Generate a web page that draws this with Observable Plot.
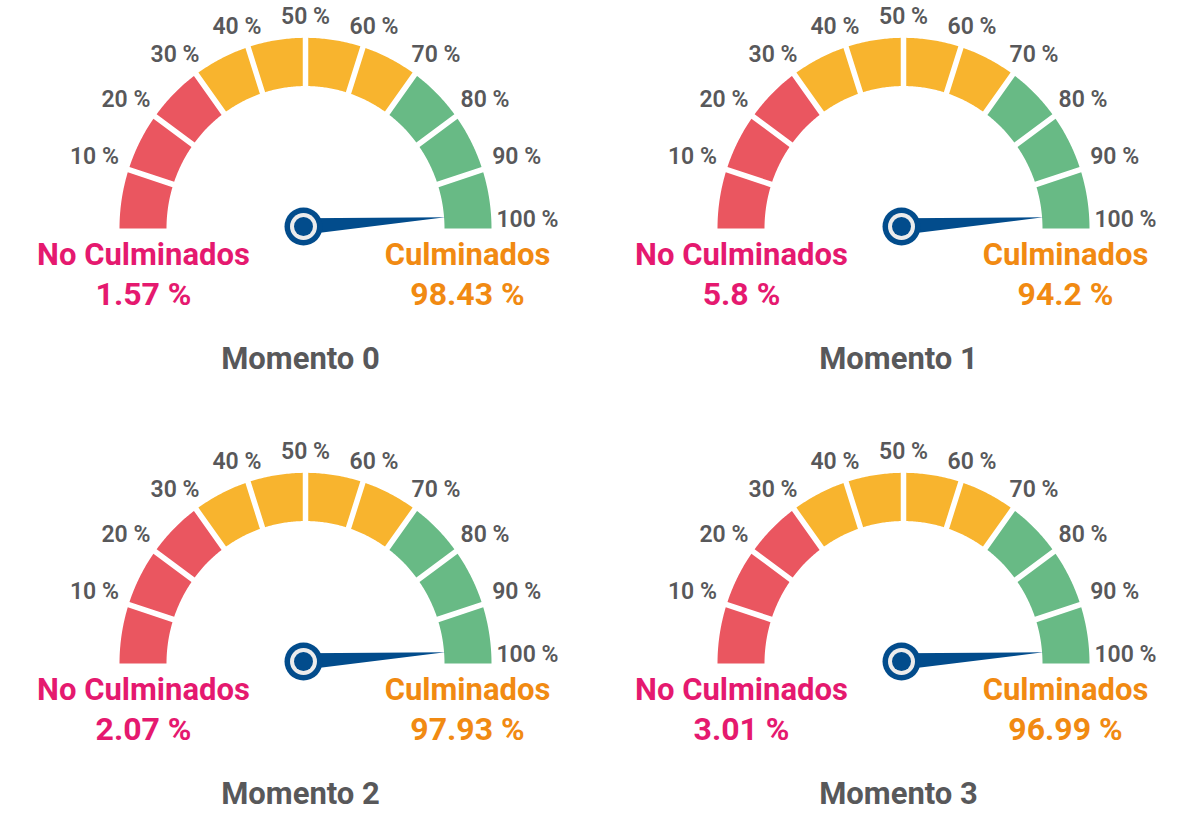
<!DOCTYPE html>
<html>
<head>
<meta charset="utf-8">
<script src="https://cdn.jsdelivr.net/npm/d3@7"></script>
<script src="https://cdn.jsdelivr.net/npm/@observablehq/plot@0.6"></script>
<style>
  html, body { margin: 0; padding: 0; background: #ffffff; }
  #wrap { position: relative; width: 1191px; height: 813px; overflow: hidden; }
  .cell { position: absolute; }
  .cell svg { display: block; }
</style>
</head>
<body>
<div id="wrap"></div>
<script>
// ---- data ----
const moments        = ["Momento 0", "Momento 1", "Momento 2", "Momento 3"];
const noCulminados   = [1.57, 5.8, 2.07, 3.01];
const culminados     = [98.43, 94.2, 97.93, 96.99];
const needleAt       = [98, 98, 98, 98];           // needle position on the 0–100 dial, as drawn
const tickValues     = [10, 20, 30, 40, 50, 60, 70, 80, 90, 100];
const tickLabels     = ["10 %", "20 %", "30 %", "40 %", "50 %", "60 %", "70 %", "80 %", "90 %", "100 %"];
const bandOf         = ["red", "red", "red", "yellow", "yellow", "yellow", "yellow", "green", "green", "green"];
const labelNo        = "No Culminados";
const labelYes       = "Culminados";

// ---- style ----
const bandColor = {red: "#EA5660", yellow: "#F8B42E", green: "#68BA85"};
const navy = "#024C8C", pink = "#E5196F", orange = "#F18A12", gray = "#58585A";
const FONT = "Roboto, 'Open Sans', sans-serif";

// ---- geometry (in px units, y up, gauge centre at 0,0) ----
const R_OUT = 186, R_IN = 139, GAP = 5.5;
const Y_STRETCH = 1.025;
const theta = p => Math.PI * (1 - p / 100);

function segmentPoints() {
  const pts = [];
  tickValues.forEach((p1, i) => {
    const p0 = i === 0 ? 0 : tickValues[i - 1];
    const t0 = theta(p0), t1 = theta(p1);
    const d0 = i === 0 ? 0 : GAP / 2;
    const d1 = i === tickValues.length - 1 ? 0 : GAP / 2;
    const n = 30;
    const a0o = t0 - Math.asin(d0 / R_OUT), a1o = t1 + Math.asin(d1 / R_OUT);
    const a0i = t0 - Math.asin(d0 / R_IN),  a1i = t1 + Math.asin(d1 / R_IN);
    for (let k = 0; k <= n; k++) {
      const a = a0o + (a1o - a0o) * k / n;
      pts.push({seg: i, color: bandColor[bandOf[i]], x: R_OUT * Math.cos(a), y: R_OUT * Math.sin(a)});
    }
    for (let k = 0; k <= n; k++) {
      const a = a1i + (a0i - a1i) * k / n;
      pts.push({seg: i, color: bandColor[bandOf[i]], x: R_IN * Math.cos(a), y: R_IN * Math.sin(a)});
    }
  });
  return pts;
}
const segs = segmentPoints();

const ticks = tickValues.map((v, i) => {
  const t = theta(v);
  return {label: tickLabels[i], x: 222 * Math.cos(t), y: 198 * Math.sin(t) + 9};
});

const pivot = {x: -2, y: 2};
function needle(p) {
  const t = theta(p), L = 142, w = 8;
  const tip = {x: pivot.x + L * Math.cos(t), y: pivot.y + L * Math.sin(t)};
  return [
    {x: pivot.x - w * Math.sin(t), y: pivot.y + w * Math.cos(t)},
    tip,
    {x: pivot.x + w * Math.sin(t), y: pivot.y - w * Math.cos(t)}
  ];
}

// layout of the 2×2 grid
const cells = [
  {left: 0,   top: 0,   w: 596, h: 435, cx: 305, cy: 228},
  {left: 595, top: 0,   w: 596, h: 435, cx: 308, cy: 228},
  {left: 0,   top: 435, w: 596, h: 378, cx: 305, cy: 228},
  {left: 595, top: 435, w: 596, h: 378, cx: 308, cy: 228}
];

const wrap = document.getElementById("wrap");
moments.forEach((m, i) => {
  const c = cells[i];
  const chart = Plot.plot({
    width: c.w, height: c.h,
    margin: 0,
    x: {domain: [-c.cx, c.w - c.cx], axis: null},
    y: {domain: [(c.cy - c.h) / Y_STRETCH, c.cy / Y_STRETCH], axis: null},
    color: {type: "identity"},
    style: {fontFamily: FONT, background: "transparent", overflow: "visible"},
    marks: [
      Plot.line(segs, {x: "x", y: "y", z: "seg", fill: "color", stroke: "none"}),
      Plot.text(ticks, {x: "x", y: "y", text: "label", fontSize: 23, fontWeight: 600, fill: gray}),
      Plot.line(needle(needleAt[i]), {x: "x", y: "y", fill: navy, stroke: "none"}),
      Plot.dot([pivot], {x: "x", y: "y", r: 19, fill: navy, stroke: "none"}),
      Plot.dot([pivot], {x: "x", y: "y", r: 13.5, fill: "#ECECEC", stroke: "none"}),
      Plot.dot([pivot], {x: "x", y: "y", r: 9.5, fill: navy, stroke: "none"}),
      Plot.text([labelNo], {x: -162, y: -26, text: d => d, fontSize: 31, fontWeight: 700, fill: pink}),
      Plot.text([noCulminados[i]], {x: -162, y: -65, text: d => `${d} %`, fontSize: 32, fontWeight: 700, fill: pink}),
      Plot.text([labelYes], {x: 162, y: -26, text: d => d, fontSize: 31, fontWeight: 700, fill: orange}),
      Plot.text([culminados[i]], {x: 162, y: -65, text: d => `${d} %`, fontSize: 32, fontWeight: 700, fill: orange}),
      Plot.text([m], {x: -5, y: -127.5, text: d => d, fontSize: 31, fontWeight: 700, fill: gray})
    ]
  });
  const div = document.createElement("div");
  div.className = "cell";
  div.style.left = c.left + "px";
  div.style.top = c.top + "px";
  div.appendChild(chart);
  wrap.appendChild(div);
});
</script>
</body>
</html>
